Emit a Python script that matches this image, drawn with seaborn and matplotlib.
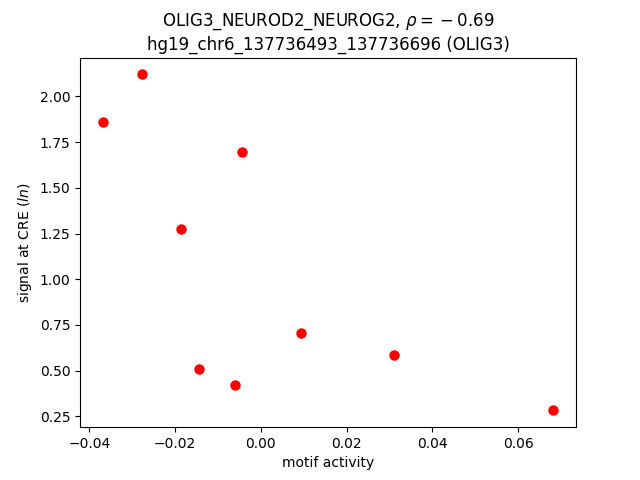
import matplotlib
matplotlib.use("Agg")
import matplotlib.pyplot as plt
import seaborn as sns
import pandas as pd

motif_activity = [-0.0369, -0.0278, -0.0044, -0.0185, 0.0093, 0.0311, -0.0145, -0.0061, 0.0682]
signal = [1.858, 2.120, 1.694, 1.273, 0.704, 0.584, 0.507, 0.420, 0.283]

df = pd.DataFrame({"motif activity": motif_activity, "signal": signal})

fig, ax = plt.subplots(figsize=(6.4, 4.8), dpi=100)
sns.scatterplot(data=df, x="motif activity", y="signal", color="red", s=36,
                edgecolor="red", linewidth=1.5, ax=ax)
ax.set_xlabel("motif activity")
ax.set_ylabel("signal at CRE ($ln$)")
ax.set_title("OLIG3_NEUROD2_NEUROG2, $\\rho = {}-0.69$\nhg19_chr6_137736493_137736696 (OLIG3)")
fig.savefig("out.png", dpi=100)
